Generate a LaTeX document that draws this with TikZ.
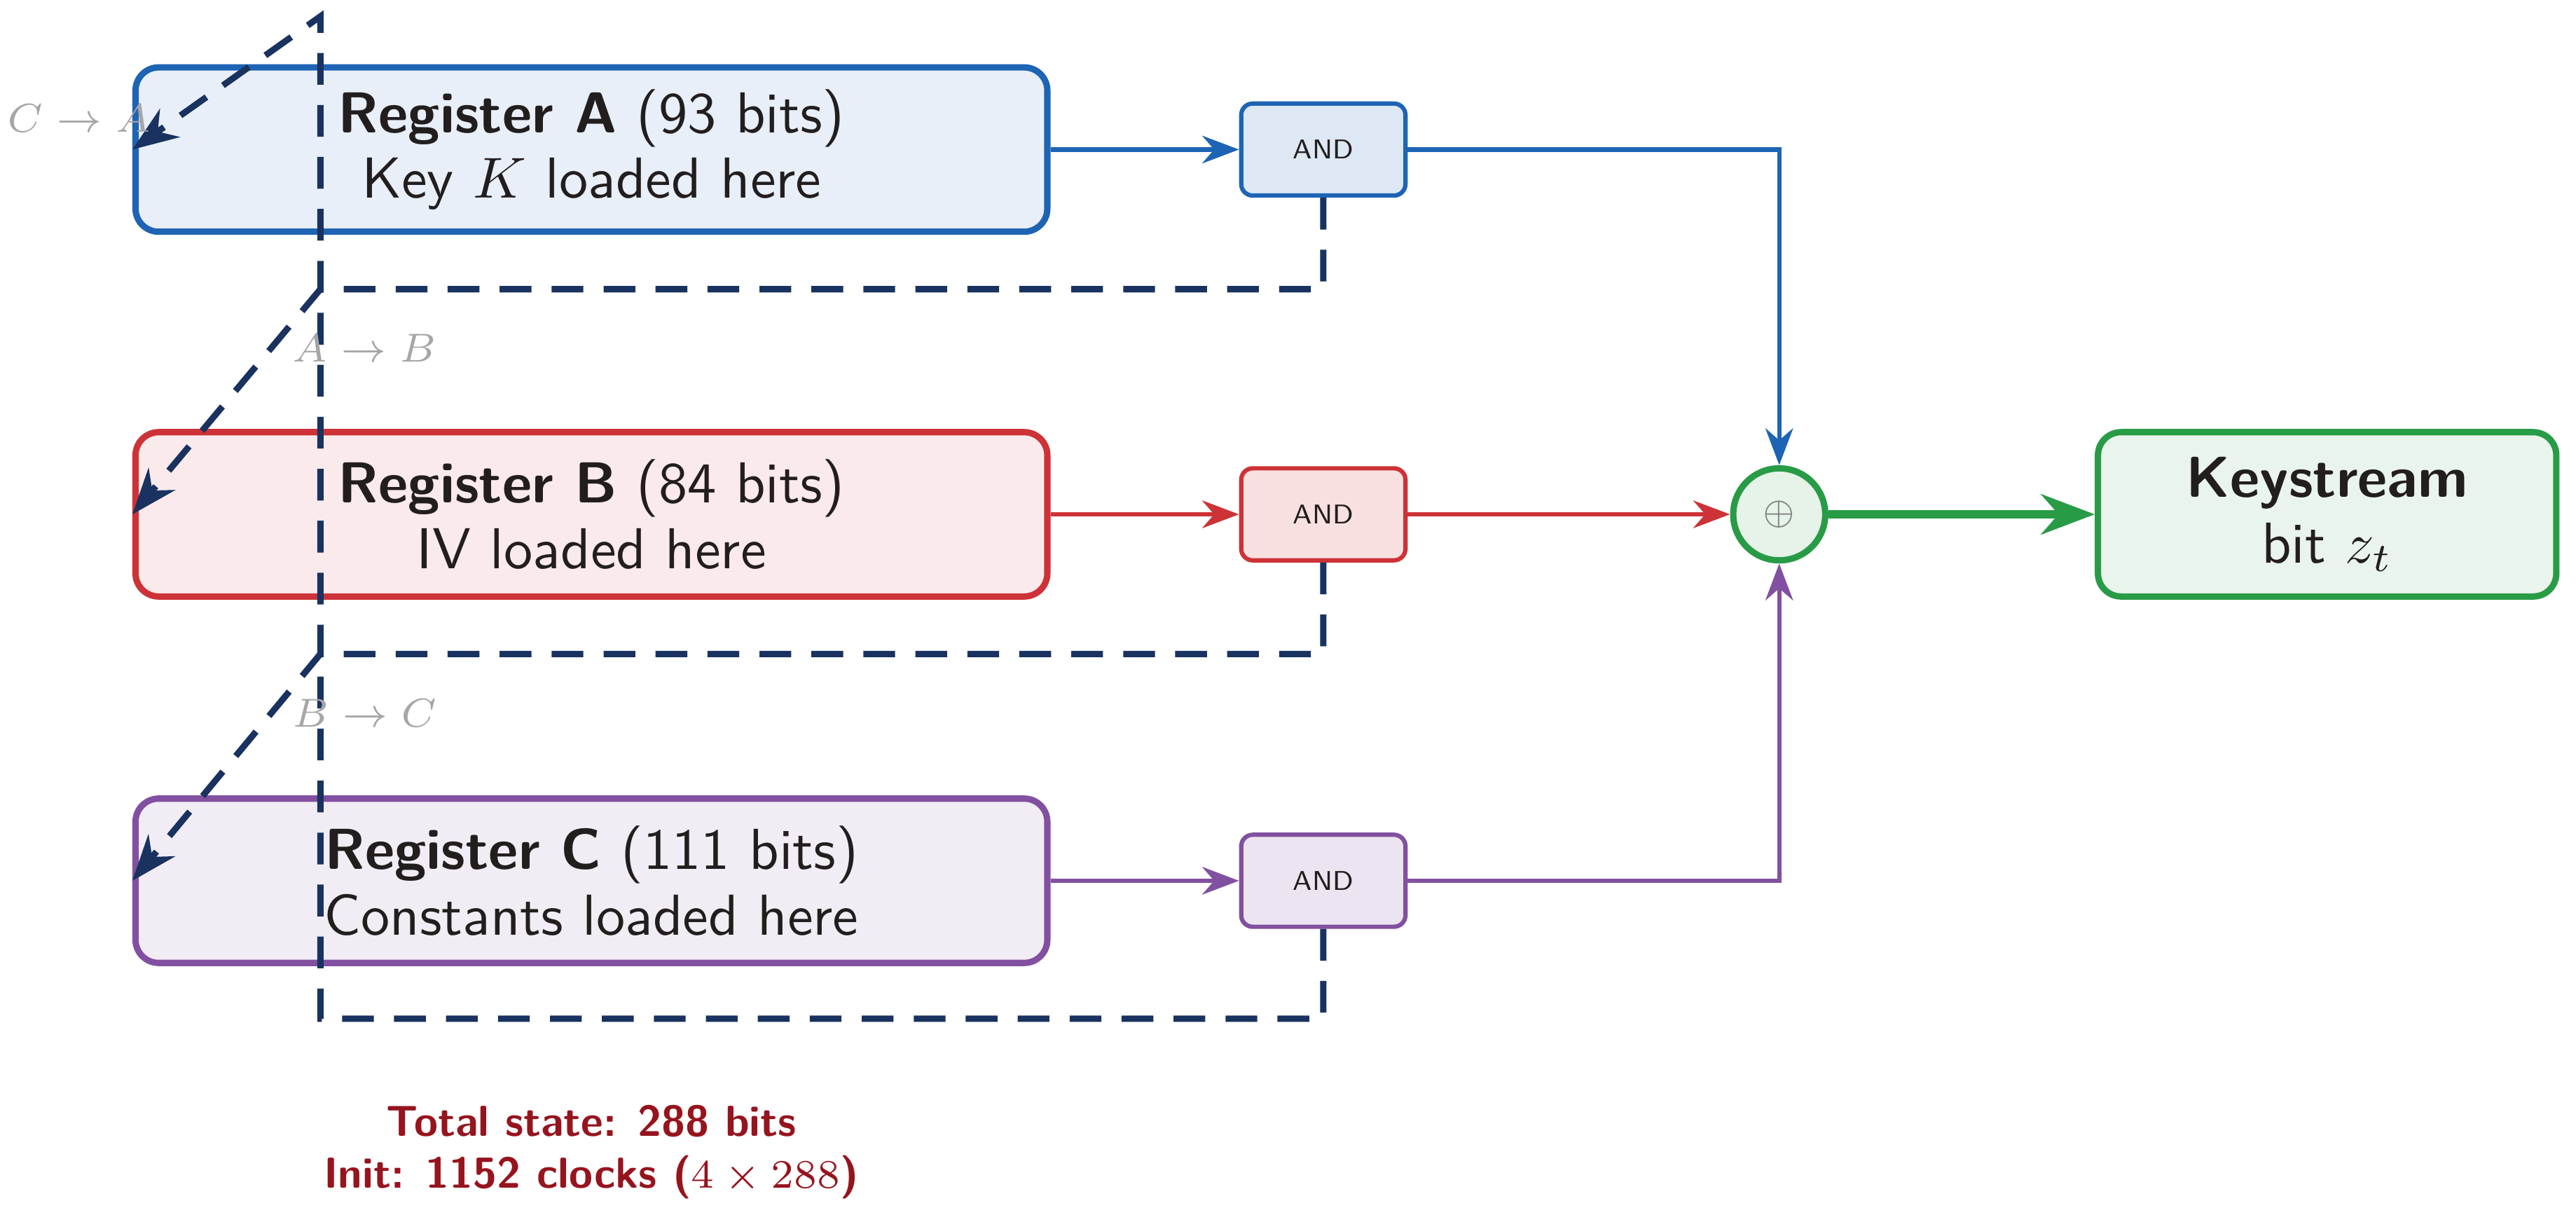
\documentclass[tikz,border=0pt]{standalone}
\usepackage{amsmath}
\usetikzlibrary{arrows.meta, positioning}
\renewcommand{\familydefault}{\sfdefault}
\definecolor{regblue}{RGB}{30,100,180}
\definecolor{regred}{RGB}{205,50,55}
\definecolor{regpurple}{RGB}{130,80,160}
\definecolor{ksgreen}{RGB}{40,155,70}
\definecolor{fbnavy}{RGB}{25,50,95}
\definecolor{totred}{RGB}{150,20,30}
\definecolor{textdark}{RGB}{35,30,30}
\tikzset{>=Stealth}
\tikzstyle{reg} = [draw, line width=1.1pt, rounded corners=4pt, minimum width=5.55cm, minimum height=1.0cm, align=center, text=textdark, font=\fontsize{10}{11.3}\selectfont]
\tikzstyle{gate} = [draw, line width=0.75pt, rounded corners=2pt, minimum width=1.0cm, minimum height=0.56cm, text=textdark, font=\fontsize{4.7}{5}\selectfont]
\tikzstyle{line} = [draw, ->, line width=0.75pt]
\tikzstyle{fb} = [draw, ->, fbnavy, line width=1.1pt, dash pattern=on 5.5pt off 3.5pt]
\tikzstyle{fblabel} = [text=gray!70, font=\fontsize{7.5}{8}\selectfont]
\begin{document}
\begin{tikzpicture}[x=1cm,y=1cm]
                \useasboundingbox (0,0) rectangle (15.68,-7.35);
                % Create Blocks
                \node [reg, fill=regblue!10, draw=regblue] (regA) at (3.6,-0.91) {\textbf{Register A} (93 bits)\\Key $K$ loaded here};
                \node [reg, fill=regred!10, draw=regred] (regB) at (3.6,-3.13) {\textbf{Register B} (84 bits)\\IV loaded here};
                \node [reg, fill=regpurple!10, draw=regpurple] (regC) at (3.6,-5.36) {\textbf{Register C} (111 bits)\\Constants loaded here};

                \node [gate, fill=regblue!15, draw=regblue] (andA) at (8.055,-0.91) {AND};
                \node [gate, fill=regred!15, draw=regred] (andB) at (8.055,-3.13) {AND};
                \node [gate, fill=regpurple!15, draw=regpurple] (andC) at (8.055,-5.36) {AND};

                \node [circle, draw=ksgreen, fill=ksgreen!12, line width=1.1pt, minimum size=0.56cm, inner sep=0pt, text=gray, font=\fontsize{6}{6}\selectfont] (xor) at (10.83,-3.13) {$\oplus$};
                \node [reg, fill=ksgreen!10, draw=ksgreen, minimum width=2.79cm] (ks) at (14.165,-3.13) {\textbf{Keystream}\\bit $z_t$};

                % Add Arrows
                \path [line, regblue] (regA) -- (andA);
                \path [line, regred] (regB) -- (andB);
                \path [line, regpurple] (regC) -- (andC);
                \path [line, regblue] (andA) -| (xor);
                \path [line, regred] (andB) -- (xor);
                \path [line, regpurple] (andC) -| (xor);
                \path [line, ksgreen, line width=1.4pt] (xor) -- (ks);

                % Feedback paths
                \coordinate (tAB) at (1.95,-1.76);
                \coordinate (tBC) at (1.95,-3.98);
                \coordinate (tCA) at (1.95,-6.2);
                \coordinate (topCA) at (1.95,-0.1);
                \path [fb] (andA.south) |- (tAB) -- (regB.west);
                \path [fb] (andB.south) |- (tBC) -- (regC.west);
                \path [fb] (andC.south) |- (tCA) -- (topCA) -- (regA.west);
                \node [fblabel] (lblCA) at (0.48,-0.72) {$C \rightarrow A$};
                \node [fblabel] (lblAB) at (2.22,-2.12) {$A \rightarrow B$};
                \node [fblabel] (lblBC) at (2.22,-4.34) {$B \rightarrow C$};

                % Summary
                \node [text=totred, align=center, font=\bfseries\fontsize{7.5}{9}\selectfont] (total) at (3.6,-7.01) {Total state: 288 bits\\Init: 1152 clocks ($4\times288$)};
            \end{tikzpicture}
\end{document}
